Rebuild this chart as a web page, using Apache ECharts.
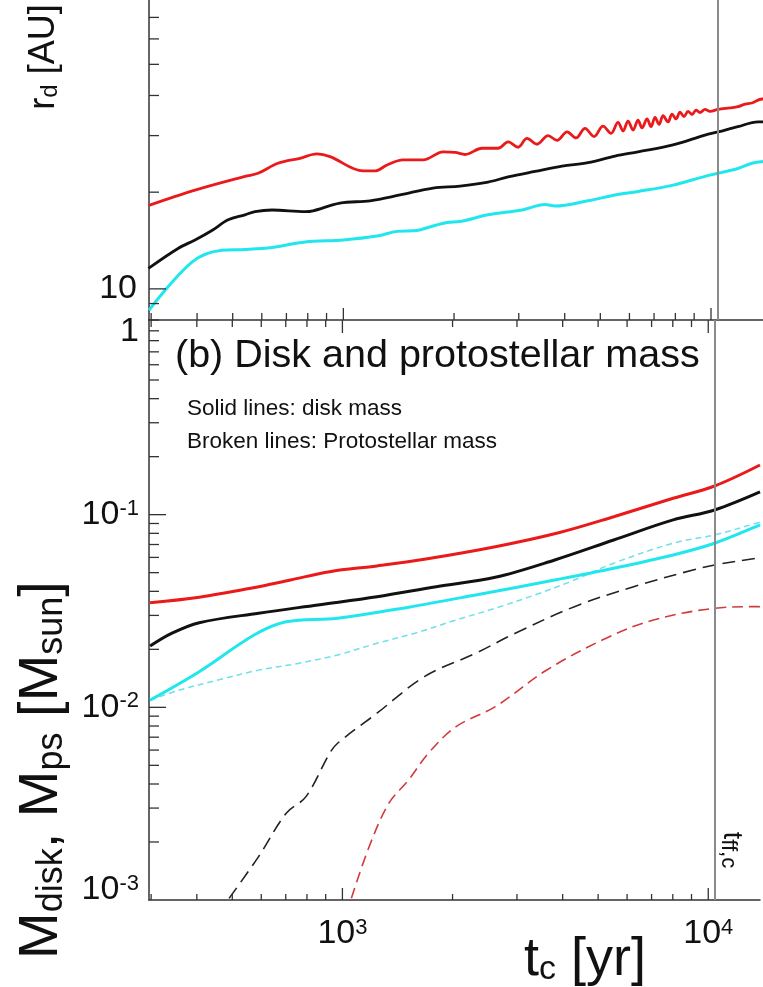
<!DOCTYPE html>
<html><head><meta charset="utf-8">
<script src="https://cdn.jsdelivr.net/npm/echarts@6/dist/echarts.min.js"></script>
<style>html,body{margin:0;padding:0;background:#fff}#c{width:763px;height:987px}</style>
</head><body><div id="c"></div>
<script>
// ---- axis ranges ----
const xMin = 296, xMax = 13850;
const rMin = 8, rMax = 79.3;
const mMin = 0.001, mMax = 1.0242;
const tFreeFall = 10450;

// ---- tick values ----
const xMajorTicks = [1000, 10000];
const xMinorTicks = [300, 400, 500, 600, 700, 800, 900, 2000, 3000, 4000, 5000, 6000, 7000, 8000, 9000];
const rMajorTicks = [10];
const rMinorTicks = [8, 9, 20, 30, 40, 50, 60, 70];
const mMajorTicks = [0.01, 0.1];
const mMinorTicks = [0.002, 0.003, 0.004, 0.005, 0.006, 0.007, 0.008, 0.009,
  0.02, 0.03, 0.04, 0.05, 0.06, 0.07, 0.08, 0.09,
  0.2, 0.3, 0.4, 0.5, 0.6, 0.7, 0.8, 0.9];

// ---- (a) disk radius r_d [AU] ----
const rdRedT = [296, 395, 540, 586, 664, 762, 848, 920, 1131, 1220, 1315, 1453, 1648, 1867, 2013, 2143, 2384, 2635, 2806, 2987, 3159, 3363, 3603, 3813, 4059, 4295, 4543, 4806, 5085, 5346, 5586, 5764, 5948, 6137, 6332, 6493, 6699, 6868, 7043, 7222, 7405, 7641, 7834, 8033, 8237, 8446, 8661, 8880, 9105, 9334, 9632, 9938, 10447, 11260, 11840, 12375, 12929, 13767, 13850];
const rdRedR = [18.2, 20.3, 22.4, 22.9, 24.6, 25.5, 26.3, 25.8, 23.3, 23.3, 24.3, 25.2, 25.2, 26.7, 26.6, 26.2, 27.4, 27.4, 28.7, 27.6, 29.4, 28.2, 30.0, 29.0, 30.8, 29.5, 31.6, 29.8, 32.1, 30.5, 33.0, 31.0, 33.3, 31.2, 33.5, 31.7, 33.8, 32.0, 34.2, 32.5, 34.6, 33.1, 35.0, 33.8, 35.5, 34.4, 35.7, 34.9, 36.0, 35.4, 36.2, 35.7, 36.2, 36.6, 36.9, 37.6, 37.9, 39.0, 39.0];
const rdBlackT = [295, 355, 395, 439, 486, 540, 575, 640, 787, 827, 979, 1182, 1426, 1754, 2077, 2475, 2806, 3321, 3934, 4629, 5482, 6332, 7834, 9632, 10447, 11840, 13427, 13850];
const rdBlackR = [11.58, 13.36, 14.2, 15.2, 16.4, 17.0, 17.4, 17.6, 17.4, 17.5, 18.5, 18.8, 19.6, 20.6, 20.9, 21.5, 22.3, 23.2, 24.1, 24.7, 25.9, 26.7, 28.0, 30.1, 30.8, 32.0, 33.1, 33.1];
const rdCyanT = [296, 388, 468, 540, 640, 787, 1000, 1235, 1400, 1587, 1754, 1914, 2077, 2475, 3062, 3537, 3765, 4629, 5482, 6332, 7834, 9632, 10447, 11840, 12929, 13850];
const rdCyanR = [8.58, 12.14, 13.2, 13.27, 13.46, 14.0, 14.2, 14.6, 15.1, 15.2, 15.7, 16.1, 16.2, 17.0, 17.6, 18.3, 18.1, 18.8, 19.6, 20.1, 21.0, 22.4, 22.9, 23.7, 24.6, 24.9];

// ---- (b) disk mass (solid) and protostellar mass (broken) [Msun] ----
const mdRedT = [298, 406, 561, 721, 923, 1243, 1675, 2618, 3899, 5515, 8017, 10409, 13850];
const mdRedM = [0.0349, 0.0373, 0.0415, 0.0458, 0.0506, 0.0542, 0.0587, 0.0682, 0.0806, 0.0976, 0.1216, 0.1409, 0.181];
const mdBlackT = [298, 341, 406, 590, 857, 1243, 1805, 2618, 3806, 5515, 8017, 10409, 13850];
const mdBlackM = [0.0208, 0.0242, 0.0275, 0.0308, 0.0340, 0.0375, 0.0423, 0.0473, 0.0582, 0.0739, 0.0939, 0.1058, 0.1312];
const mdCyanT = [298, 406, 575, 702, 970, 1517, 2314, 3899, 5515, 8017, 10409, 13510, 13850];
const mdCyanM = [0.0109, 0.0153, 0.0238, 0.0278, 0.0290, 0.0331, 0.0383, 0.0462, 0.0527, 0.0618, 0.0711, 0.0866, 0.0884];
const mpsCyanT = [298, 359, 460, 590, 756, 970, 1243, 1594, 2045, 2618, 3359, 4308, 5515, 8017, 10409, 13510, 13850];
const mpsCyanM = [0.0109, 0.0123, 0.0139, 0.0156, 0.0169, 0.0187, 0.0215, 0.0244, 0.0284, 0.0327, 0.0383, 0.0458, 0.0560, 0.0711, 0.0785, 0.0902, 0.0915];
const mpsBlackT = [490, 590, 702, 795, 923, 970, 1243, 1675, 2314, 2968, 4308, 6252, 9081, 10409, 13510, 13850];
const mpsBlackM = [0.00102, 0.00168, 0.00282, 0.00344, 0.00578, 0.00651, 0.00932, 0.01443, 0.01909, 0.02424, 0.03331, 0.04229, 0.05164, 0.05483, 0.05939, 0.0597];
const mpsRedT = [1058, 1183, 1340, 1517, 1718, 2045, 2618, 3620, 5258, 7082, 10409, 13510, 13850];
const mpsRedM = [0.00102, 0.00189, 0.00318, 0.00420, 0.00578, 0.00794, 0.01008, 0.01563, 0.02284, 0.02841, 0.03267, 0.03331, 0.0333];

const FONT = '"Liberation Sans", Arial, Helvetica, sans-serif';
const zip = (a, b) => a.map((v, i) => [v, b[i]]);
const isPow = v => Math.abs(Math.log10(v) - Math.round(Math.log10(v))) < 1e-6;

const RED = '#ea1a1a', BLACK = '#111111', CYAN = '#22e6ee';

function tickSeries(grid, items) {
  return {
    type: 'custom', xAxisIndex: grid, yAxisIndex: grid, silent: true, clip: false, z: 5,
    data: items,
    renderItem: function (params, api) {
      const p = api.coord([api.value(0), api.value(1)]);
      const d = api.value(2), L = api.value(3);
      let x2 = p[0], y2 = p[1];
      if (d === 0) x2 += L; else if (d === 1) y2 -= L; else y2 += L;
      return { type: 'line', shape: { x1: p[0], y1: p[1], x2: x2, y2: y2 }, style: { stroke: '#333', lineWidth: 1.3 } };
    }
  };
}
const ticks0 = [].concat(
  xMajorTicks.map(v => [v, rMin, 1, 12]),
  xMinorTicks.map(v => [v, rMin, 1, 7]),
  rMajorTicks.map(v => [xMin, v, 0, 17]),
  rMinorTicks.map(v => [xMin, v, 0, 10])
);
const ticks1 = [].concat(
  xMajorTicks.map(v => [v, mMin, 1, 12]),
  xMinorTicks.map(v => [v, mMin, 1, 6]),
  xMajorTicks.map(v => [v, mMax, 2, 13]),
  xMinorTicks.map(v => [v, mMax, 2, 7]),
  mMajorTicks.map(v => [xMin, v, 0, 17]),
  mMinorTicks.map(v => [xMin, v, 0, 10])
);

function lineSeries(grid, t, v, color, width, type, z) {
  return {
    type: 'line', xAxisIndex: grid, yAxisIndex: grid, data: zip(t, v),
    showSymbol: false, symbol: 'none', smooth: 0.35, silent: true, z: z || 3,
    lineStyle: { color: color, width: width, type: type || 'solid' }
  };
}
function vline(grid) {
  return {
    type: 'line', xAxisIndex: grid, yAxisIndex: grid, data: [], silent: true,
    markLine: { silent: true, symbol: ['none', 'none'], label: { show: false }, animation: false,
      lineStyle: { color: '#8a8a8a', width: 2, type: 'solid' }, data: [{ xAxis: tFreeFall }] }
  };
}

const supRich = {
  b: { fontSize: 34, fontFamily: FONT, color: '#111' },
  s: { fontSize: 22, fontFamily: FONT, color: '#111', verticalAlign: 'top' },
  g: { fontSize: 18, height: 20, lineHeight: 20 }
};

const axisCommon = {
  type: 'log', logBase: 10, splitLine: { show: false }, axisTick: { show: false },
  axisLine: { show: true, lineStyle: { color: '#333', width: 1.5 } }
};

const option = {
  animation: false,
  backgroundColor: '#fff',
  textStyle: { fontFamily: FONT },
  grid: [
    { left: 149, right: 0, top: 0, height: 320 },
    { left: 149, right: 0, top: 320, height: 580 }
  ],
  xAxis: [
    Object.assign({}, axisCommon, { gridIndex: 0, min: xMin, max: xMax, axisLabel: { show: false } }),
    Object.assign({}, axisCommon, { gridIndex: 1, min: xMin, max: xMax,
      axisLabel: { show: true, margin: 17, rich: supRich,
        formatter: v => (isPow(v) && (Math.round(Math.log10(v)) === 3 || Math.round(Math.log10(v)) === 4)) ? '{b|10}{s|' + Math.round(Math.log10(v)) + '}' : '' } })
  ],
  yAxis: [
    Object.assign({}, axisCommon, { gridIndex: 0, min: rMin, max: rMax,
      axisLabel: { show: true, margin: 12, rich: supRich,
        formatter: v => (isPow(v) && Math.round(Math.log10(v)) === 1) ? '{b|10}' : '' } }),
    Object.assign({}, axisCommon, { gridIndex: 1, min: mMin, max: mMax,
      axisLabel: { show: true, margin: 10, rich: supRich,
        formatter: function (v) {
          if (!isPow(v)) return '';
          const e = Math.round(Math.log10(v));
          if (e === 0) return '{g| }\n{b|1}';
          if (e === -3) return '{b|10}{s|-3}\n{g| }';
          return '{b|10}{s|' + e + '}';
        } } })
  ],
  graphic: [
    { type: 'text', x: 44, y: 57, rotation: Math.PI / 2, silent: true,
      style: { text: '{a|r}{b|d}{a| [AU]}', align: 'center', verticalAlign: 'middle', textAlign: 'center', textVerticalAlign: 'middle',
        rich: { a: { fontSize: 36, fontFamily: FONT, fill: '#111' }, b: { fontSize: 24, fontFamily: FONT, fill: '#111', verticalAlign: 'bottom' } } } },
    { type: 'text', x: 42, y: 770, rotation: Math.PI / 2, silent: true,
      style: { text: '{a|M}{b|disk}{a|, M}{b|ps}{a| [M}{b|sun}{a|]}', align: 'center', verticalAlign: 'middle', textAlign: 'center', textVerticalAlign: 'middle',
        rich: { a: { fontSize: 56, fontFamily: FONT, fill: '#111' }, b: { fontSize: 36, fontFamily: FONT, fill: '#111', verticalAlign: 'bottom' } } } },
    { type: 'text', x: 585, y: 960, silent: true,
      style: { text: '{a|t}{b|c}{a| [yr]}', align: 'center', verticalAlign: 'middle', textAlign: 'center', textVerticalAlign: 'middle',
        rich: { a: { fontSize: 54, fontFamily: FONT, fill: '#111' }, b: { fontSize: 34, fontFamily: FONT, fill: '#111', verticalAlign: 'bottom' } } } },
    { type: 'text', x: 175, y: 356, silent: true,
      style: { text: '(b) Disk and protostellar mass', font: '39.5px ' + FONT, fill: '#111', align: 'left', verticalAlign: 'middle', textAlign: 'left', textVerticalAlign: 'middle' } },
    { type: 'text', x: 187, y: 409, silent: true,
      style: { text: 'Solid lines: disk mass', font: '22.5px ' + FONT, fill: '#111', align: 'left', verticalAlign: 'middle', textAlign: 'left', textVerticalAlign: 'middle' } },
    { type: 'text', x: 187, y: 442, silent: true,
      style: { text: 'Broken lines: Protostellar mass', font: '22.5px ' + FONT, fill: '#111', align: 'left', verticalAlign: 'middle', textAlign: 'left', textVerticalAlign: 'middle' } },
    { type: 'text', x: 731, y: 850, rotation: -Math.PI / 2, silent: true,
      style: { text: '{a|t}{b|ff,c}', align: 'center', verticalAlign: 'middle', textAlign: 'center', textVerticalAlign: 'middle',
        rich: { a: { fontSize: 27, fontFamily: FONT, fill: '#111' }, b: { fontSize: 22, fontFamily: FONT, fill: '#111', verticalAlign: 'bottom' } } } }
  ],
  series: [
    vline(0), vline(1),
    lineSeries(0, rdRedT, rdRedR, RED, 2.8),
    lineSeries(0, rdBlackT, rdBlackR, BLACK, 2.8),
    lineSeries(0, rdCyanT, rdCyanR, CYAN, 3),
    lineSeries(1, mpsCyanT, mpsCyanM, '#6fe0ea', 1.5, [6, 4], 2),
    lineSeries(1, mpsBlackT, mpsBlackM, '#222', 1.6, [13, 7], 2),
    lineSeries(1, mpsRedT, mpsRedM, '#d03c3c', 1.6, [11, 6], 2),
    lineSeries(1, mdRedT, mdRedM, RED, 3),
    lineSeries(1, mdBlackT, mdBlackM, BLACK, 3),
    lineSeries(1, mdCyanT, mdCyanM, CYAN, 3),
    tickSeries(0, ticks0),
    tickSeries(1, ticks1)
  ]
};

const chart = echarts.init(document.getElementById('c'), null, { renderer: 'canvas' });
chart.setOption(option);
</script></body></html>
